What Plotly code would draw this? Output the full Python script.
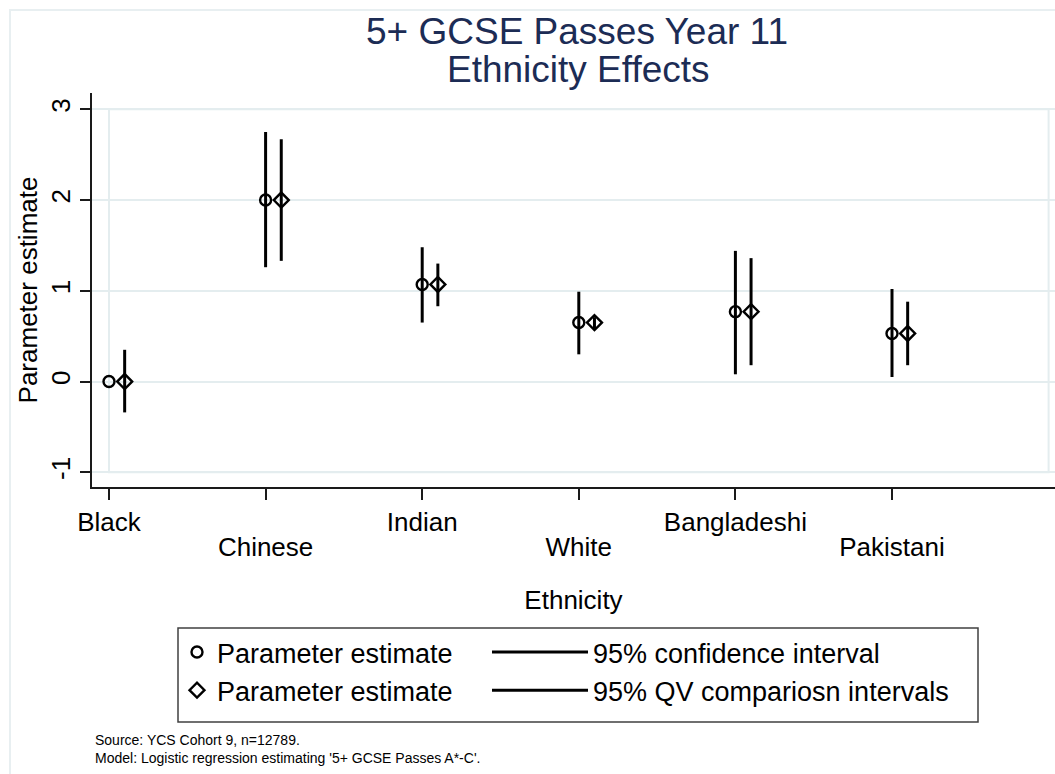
import plotly.graph_objects as go

# Ethnicity effects on 5+ GCSE passes (logistic regression, Black = reference)
categories = ["Black", "Chinese", "Indian", "White", "Bangladeshi", "Pakistani"]
estimate = [0.00, 2.00, 1.07, 0.65, 0.77, 0.53]
ci_low = [0.00, 1.26, 0.65, 0.30, 0.08, 0.05]
ci_high = [0.00, 2.75, 1.48, 0.99, 1.44, 1.02]
qv_low = [-0.34, 1.33, 0.83, 0.58, 0.18, 0.18]
qv_high = [0.35, 2.67, 1.30, 0.71, 1.36, 0.88]
y_ticks = [-1, 0, 1, 2, 3]

W, H = 1055, 774
L, R, T, B = 92, 0, 93, 287
PW, PH = W - L - R, H - T - B

FONT = "Liberation Sans, Arial, Helvetica, sans-serif"
TITLE_COLOR = "#1c2c55"
GRID = "#e4edef"
AXIS = "#1a1a1a"


def px_x(px):
    return (px - L) / PW


def px_y(py):
    return (H - B - py) / PH


x_est = list(range(1, len(categories) + 1))
x_qv = [x + 0.1 for x in x_est]


def segments(xs, lows, highs):
    sx, sy = [], []
    for x, lo, hi in zip(xs, lows, highs):
        sx += [x, x, None]
        sy += [lo, hi, None]
    return sx, sy


ci_x, ci_y = segments(x_est, ci_low, ci_high)
qv_x, qv_y = segments(x_qv, qv_low, qv_high)

fig = go.Figure()
fig.add_trace(go.Scatter(
    x=x_est, y=estimate, mode="markers", name="Parameter estimate", legend="legend",
    marker=dict(symbol="circle-open", size=11, color="black", line=dict(width=2.4, color="black")),
))
fig.add_trace(go.Scatter(
    x=ci_x, y=ci_y, mode="lines", name="95% confidence interval", legend="legend2",
    line=dict(color="black", width=3),
))
fig.add_trace(go.Scatter(
    x=x_qv, y=estimate, mode="markers", name="Parameter estimate", legend="legend",
    marker=dict(symbol="diamond-open", size=11.5, color="black", line=dict(width=2.4, color="black")),
))
fig.add_trace(go.Scatter(
    x=qv_x, y=qv_y, mode="lines", name="95% QV compariosn intervals", legend="legend2",
    line=dict(color="black", width=3),
))

# second-row category labels on an overlaid axis
fig.add_trace(go.Scatter(x=[None], y=[None], xaxis="x2", showlegend=False, hoverinfo="skip"))

x_range = [1 - 17 / 156.6, 1 + (W - R - 109) / 156.6]
y_range = [-1 - 14.7 / 90.74, 3 + 16.3 / 90.74]

top_row = [c if i % 2 == 0 else "" for i, c in enumerate(categories)]
bottom_row = [c if i % 2 == 1 else "" for i, c in enumerate(categories)]

legend_common = dict(
    orientation="v", y=px_y(628), xanchor="left", yanchor="top",
    borderwidth=0, bgcolor="rgba(0,0,0,0)", font=dict(size=27),
    traceorder="normal", tracegroupgap=0, itemclick=False, itemdoubleclick=False,
)

fig.update_layout(
    width=W, height=H,
    margin=dict(l=L, r=R, t=T, b=B, autoexpand=False),
    paper_bgcolor="white", plot_bgcolor="white",
    font=dict(family=FONT, size=26, color="black"),
    showlegend=True,
    xaxis=dict(
        range=x_range, tickmode="array", tickvals=x_est, ticktext=top_row,
        showgrid=False, zeroline=False, showline=True, linecolor=AXIS, linewidth=1.5,
        ticks="outside", ticklen=11, tickwidth=1.5, tickcolor=AXIS,
        tickfont=dict(size=26), fixedrange=True,
        title=dict(text="Ethnicity", font=dict(size=26), standoff=55),
    ),
    xaxis2=dict(
        range=x_range, overlaying="x", side="bottom", anchor="y",
        tickmode="array", tickvals=x_est, ticktext=bottom_row,
        showgrid=False, zeroline=False, showline=False, ticks="",
        tickfont=dict(size=26), ticklabelstandoff=42, fixedrange=True,
    ),
    yaxis=dict(
        range=y_range, tickmode="array", tickvals=y_ticks, ticktext=[str(v) for v in y_ticks],
        tickangle=-90, showgrid=True, gridcolor=GRID, gridwidth=2,
        zeroline=False, showline=True, linecolor=AXIS, linewidth=1.5,
        ticks="outside", ticklen=10, tickwidth=1.5, tickcolor=AXIS,
        tickfont=dict(size=26), fixedrange=True,
        title=dict(text="Parameter estimate", font=dict(size=26), standoff=1),
    ),
    legend=dict(x=px_x(177), itemwidth=30, **legend_common),
    legend2=dict(x=px_x(487), itemwidth=96, **legend_common),
    annotations=[
        dict(text="5+ GCSE Passes Year 11", xref="paper", yref="paper",
             x=px_x(577), y=px_y(31), xanchor="center", yanchor="middle", showarrow=False,
             font=dict(size=37, color=TITLE_COLOR)),
        dict(text="Ethnicity Effects", xref="paper", yref="paper",
             x=px_x(578), y=px_y(69), xanchor="center", yanchor="middle", showarrow=False,
             font=dict(size=37, color=TITLE_COLOR)),
        dict(text="Source: YCS Cohort 9, n=12789.<br>Model: Logistic regression estimating '5+ GCSE Passes A*-C'.",
             xref="paper", yref="paper", x=px_x(93), y=px_y(749), xanchor="left", yanchor="middle",
             align="left", showarrow=False, font=dict(size=14, color="black")),
    ],
    shapes=[
        # inner plot region outline
        dict(type="rect", xref="x", yref="y", x0=1, x1=7, y0=-1, y1=3,
             line=dict(color=GRID, width=2), layer="below"),
        # outer graph region outline
        dict(type="rect", xref="paper", yref="paper", x0=px_x(10), x1=px_x(W + 20),
             y0=px_y(H + 20), y1=px_y(10), line=dict(color="#e8eff1", width=2), layer="below"),
        # frame around the key
        dict(type="rect", xref="paper", yref="paper", x0=px_x(178), x1=px_x(978),
             y0=px_y(722), y1=px_y(628), line=dict(color="#404040", width=1.5)),
    ],
)

fig.write_html("out.html")
